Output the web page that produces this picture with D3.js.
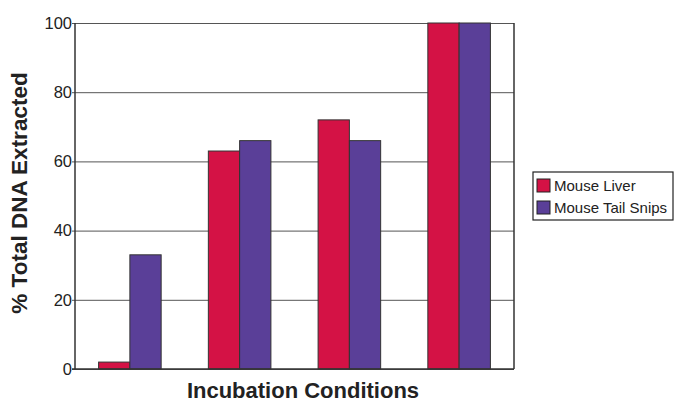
<!DOCTYPE html>
<html>
<head>
<meta charset="utf-8">
<script src="https://cdn.jsdelivr.net/npm/d3@7"></script>
<style>
  html, body { margin: 0; padding: 0; background: #fff; }
  svg { display: block; }
  text { font-family: "Liberation Sans", Arial, Helvetica, sans-serif; fill: #222; }
</style>
</head>
<body>
<svg id="chart" width="674" height="402"></svg>
<script>
// Extraction results per incubation condition
const conditions = ["A", "B", "C", "D"];
const seriesNames = ["Mouse Liver", "Mouse Tail Snips"];
const mouseLiver = [2, 63, 72, 100];
const mouseTailSnips = [33, 66, 66, 100];
const yTicks = [0, 20, 40, 60, 80, 100];
const colors = ["#d41245", "#5a3f98"];

const svg = d3.select("#chart");
const plot = { left: 75, right: 514, top: 23, bottom: 369 };

const x0 = d3.scaleBand()
  .domain(conditions)
  .range([plot.left, plot.right])
  .paddingInner(0.43)
  .paddingOuter(0.215);

const x1 = d3.scaleBand()
  .domain(seriesNames)
  .range([0, x0.bandwidth()]);

const y = d3.scaleLinear()
  .domain([0, 100])
  .range([plot.bottom, plot.top]);

const values = [mouseLiver, mouseTailSnips];

// Horizontal gridlines with short ticks and labels
const yAxis = d3.axisLeft(y)
  .tickValues(yTicks)
  .tickSize(-(plot.right - plot.left))
  .tickPadding(6)
  .tickFormat(d3.format("d"));

const yg = svg.append("g")
  .attr("transform", `translate(${plot.left},0)`)
  .call(yAxis);
yg.select(".domain").remove();
yg.selectAll(".tick line")
  .attr("x1", -3)
  .attr("stroke", "#555")
  .attr("stroke-width", 1);
yg.selectAll(".tick text")
  .attr("font-size", 16.5)
  .attr("fill", "#222")
  .attr("x", -3)
  .style("font-family", "'Liberation Sans', Arial, Helvetica, sans-serif");

// Bars
const groups = svg.append("g").selectAll("g")
  .data(conditions)
  .join("g")
  .attr("transform", d => `translate(${x0(d)},0)`);

groups.selectAll("rect")
  .data((d, i) => seriesNames.map((s, j) => ({ s, j, v: values[j][i] })))
  .join("rect")
  .attr("x", d => x1(d.s))
  .attr("width", x1.bandwidth())
  .attr("y", d => y(d.v))
  .attr("height", d => y(0) - y(d.v))
  .attr("fill", d => colors[d.j])
  .attr("stroke", "#333")
  .attr("stroke-width", 1);

// Plot frame (left, right, bottom)
svg.append("line")
  .attr("x1", plot.left).attr("x2", plot.left)
  .attr("y1", plot.top).attr("y2", plot.bottom)
  .attr("stroke", "#333").attr("stroke-width", 1.5);
svg.append("line")
  .attr("x1", plot.right).attr("x2", plot.right)
  .attr("y1", plot.top).attr("y2", plot.bottom)
  .attr("stroke", "#333").attr("stroke-width", 1.5);
svg.append("line")
  .attr("x1", plot.left - 3).attr("x2", plot.right)
  .attr("y1", plot.bottom).attr("y2", plot.bottom)
  .attr("stroke", "#333").attr("stroke-width", 1.5);

// Axis titles
svg.append("text")
  .attr("transform", "translate(27,193) rotate(-90)")
  .attr("text-anchor", "middle")
  .attr("font-size", 22.5)
  .attr("font-weight", "bold")
  .text("% Total DNA Extracted");

svg.append("text")
  .attr("x", 303)
  .attr("y", 398)
  .attr("text-anchor", "middle")
  .attr("font-size", 22)
  .attr("font-weight", "bold")
  .text("Incubation Conditions");

// Legend
const legend = svg.append("g").attr("transform", "translate(533,172)");
legend.append("rect")
  .attr("width", 140).attr("height", 48)
  .attr("fill", "#fff").attr("stroke", "#222").attr("stroke-width", 1.2);
const items = legend.selectAll("g.item")
  .data(seriesNames)
  .join("g")
  .attr("class", "item")
  .attr("transform", (d, i) => `translate(4,${7 + i * 22})`);
items.append("rect")
  .attr("width", 13).attr("height", 13)
  .attr("fill", (d, i) => colors[i])
  .attr("stroke", "#222").attr("stroke-width", 1);
items.append("text")
  .attr("x", 17)
  .attr("y", 12)
  .attr("font-size", 15)
  .text(d => d);
</script>
</body>
</html>
